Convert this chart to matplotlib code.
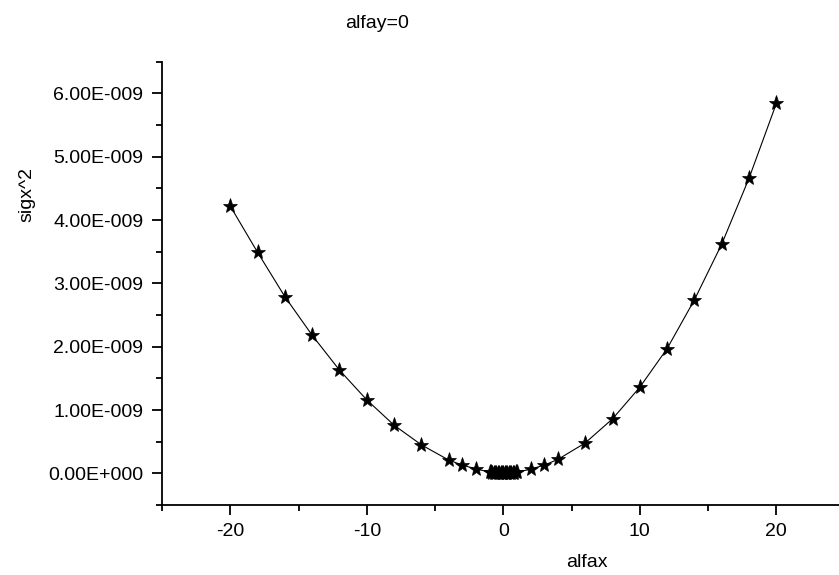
import matplotlib.pyplot as plt
from matplotlib.ticker import MultipleLocator, FuncFormatter

plt.rcParams['font.family'] = ['Liberation Sans', 'DejaVu Sans']
plt.rcParams['axes.unicode_minus'] = False

# alfax values (outer points + dense cluster around zero)
alfax = [-20, -18, -16, -14, -12, -10, -8, -6, -4, -3, -2,
         -1.0, -0.9, -0.8, -0.7, -0.6, -0.5, -0.4, -0.3, -0.2, -0.1, 0.0,
         0.1, 0.2, 0.3, 0.4, 0.5, 0.6, 0.7, 0.8, 0.9, 1.0,
         2, 3, 4, 6, 8, 10, 12, 14, 16, 18, 20]

# sigx^2 in units of 1e-9
sigx2 = [4.22, 3.49, 2.79, 2.18, 1.63, 1.16, 0.76, 0.45, 0.21, 0.13, 0.07,
         0.020, 0.016, 0.013, 0.010, 0.007, 0.005, 0.003, 0.002, 0.001, 0.000, 0.000,
         0.000, 0.001, 0.002, 0.003, 0.005, 0.007, 0.010, 0.013, 0.016, 0.020,
         0.065, 0.13, 0.22, 0.48, 0.86, 1.36, 1.97, 2.74, 3.62, 4.66, 5.84]

sigx2 = [v * 1e-9 for v in sigx2]


def sci_label(v, pos):
    # Origin-style labels: 1.00E-009
    if abs(v) < 1e-15:
        return '0.00E+000'
    mant, exp = f'{v:.2E}'.split('E')
    sign = '-' if int(exp) < 0 else '+'
    return f'{mant}E{sign}{abs(int(exp)):03d}'


fig = plt.figure(figsize=(8.39, 5.75), dpi=100)
ax = fig.add_axes([162 / 839, 70 / 575, 682.6 / 839, 443.3 / 575])

ax.plot(alfax, sigx2, '-', color='black', lw=0.8,
        marker='*', markersize=11, markerfacecolor='black',
        markeredgecolor='black', markeredgewidth=0.5)

ax.set_xlim(-25, 25)
ax.set_ylim(-0.5e-9, 6.5e-9)
ax.xaxis.set_major_locator(MultipleLocator(10))
ax.xaxis.set_minor_locator(MultipleLocator(5))
ax.yaxis.set_major_locator(MultipleLocator(1e-9))
ax.yaxis.set_minor_locator(MultipleLocator(0.5e-9))
ax.yaxis.set_major_formatter(FuncFormatter(sci_label))

for side in ['top', 'right']:
    ax.spines[side].set_visible(False)
for side in ['left', 'bottom']:
    ax.spines[side].set_linewidth(1.3)

ax.tick_params(which='major', direction='out', length=7.5, width=1.3,
               labelsize=14, pad=5.5)
ax.tick_params(which='minor', direction='out', length=4, width=1.3)
ax.tick_params(axis='y', which='major', pad=6)

fig.text(377 / 839, 1 - 28.3 / 575, 'alfay=0', ha='center', va='baseline',
         fontsize=14)
fig.text(587 / 839, 1 - 566.7 / 575, 'alfax', ha='center', va='baseline',
         fontsize=14)
fig.text(26.5 / 839, 1 - 194 / 575, 'sigx^2', ha='center', va='center',
         rotation=90, fontsize=14)

plt.savefig('out.png', dpi=100)
